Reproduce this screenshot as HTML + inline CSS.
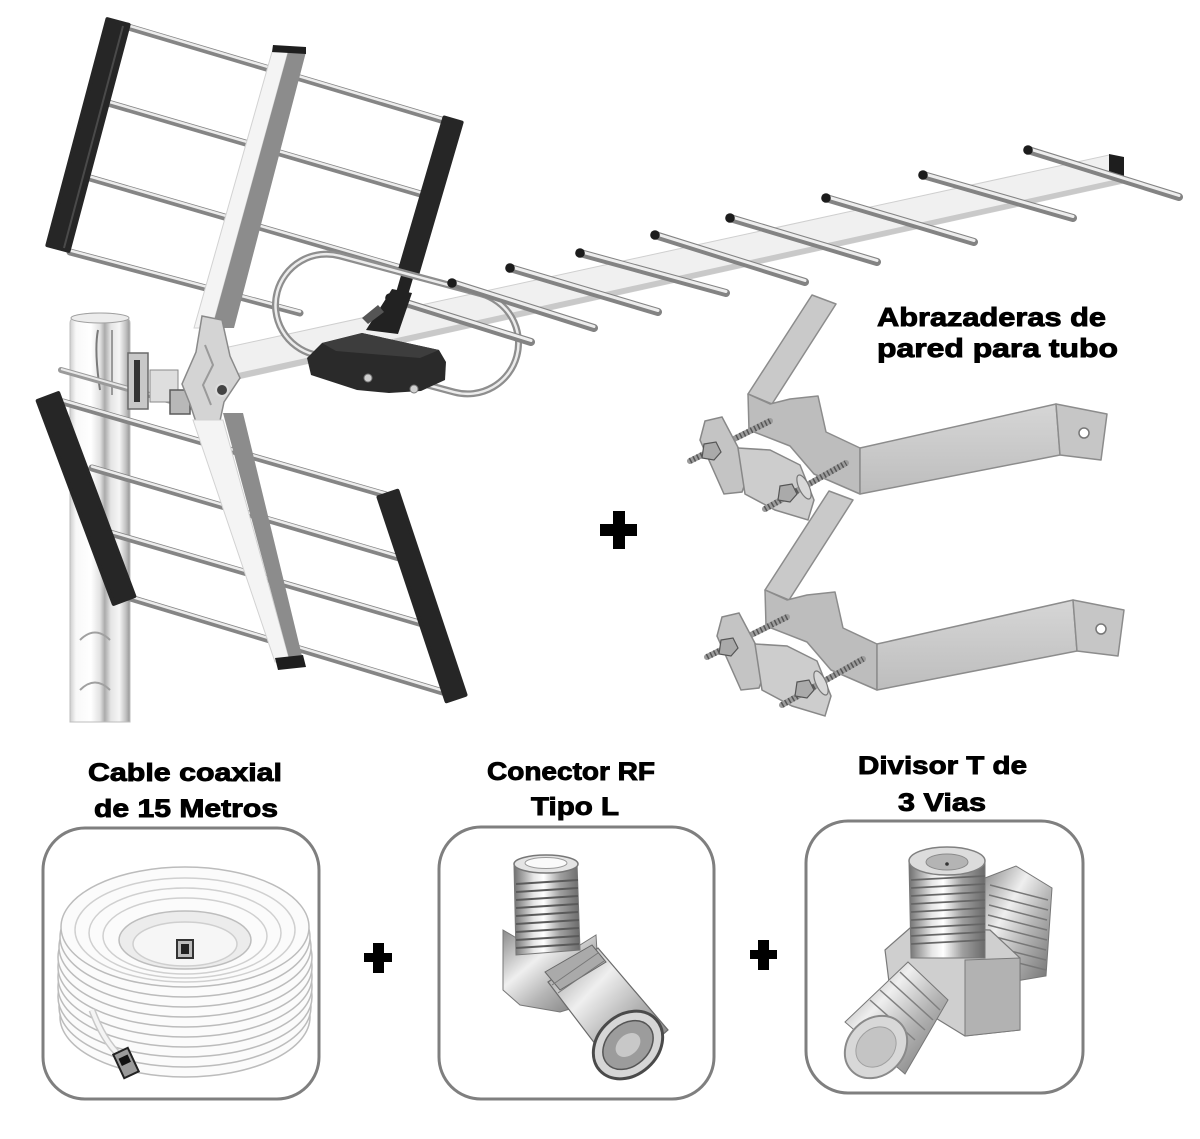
<!DOCTYPE html>
<html><head><meta charset="utf-8"><style>
html,body{margin:0;padding:0;background:#fff;}
svg{display:block;}
.t{font-family:"Liberation Sans",Arial,sans-serif;font-weight:bold;fill:#000;stroke:#000;stroke-width:0.9;}
</style></head><body>
<svg width="1200" height="1139" viewBox="0 0 1200 1139" xmlns="http://www.w3.org/2000/svg">
<defs>
<linearGradient id="mast" x1="0" x2="1" y1="0" y2="0">
<stop offset="0" stop-color="#cfcfcf"/><stop offset="0.1" stop-color="#f8f8f8"/><stop offset="0.35" stop-color="#ffffff"/><stop offset="0.5" stop-color="#e2e2e2"/><stop offset="0.58" stop-color="#ababab"/><stop offset="0.68" stop-color="#e4e4e4"/><stop offset="0.82" stop-color="#f6f6f6"/><stop offset="0.93" stop-color="#c2c2c2"/><stop offset="1" stop-color="#949494"/>
</linearGradient>
<linearGradient id="chr" x1="0" x2="1" y1="0" y2="0">
<stop offset="0" stop-color="#707070"/><stop offset="0.3" stop-color="#e6e6e6"/><stop offset="0.45" stop-color="#ffffff"/><stop offset="0.7" stop-color="#a0a0a0"/><stop offset="1" stop-color="#6a6a6a"/>
</linearGradient>
<linearGradient id="chr2" x1="0" x2="1" y1="0" y2="1">
<stop offset="0" stop-color="#8a8a8a"/><stop offset="0.35" stop-color="#efefef"/><stop offset="0.6" stop-color="#b5b5b5"/><stop offset="1" stop-color="#6f6f6f"/>
</linearGradient>
<linearGradient id="brk" x1="0" x2="0" y1="0" y2="1">
<stop offset="0" stop-color="#d6d6d6"/><stop offset="1" stop-color="#bdbdbd"/>
</linearGradient>
</defs>

<!-- MAST -->
<path d="M70,323 Q70,313 100,313 Q130,313 130,323 L130,722 L70,722 Z" fill="url(#mast)" stroke="#bdbdbd" stroke-width="1"/>
<ellipse cx="100" cy="318" rx="29" ry="5" fill="#ececec" stroke="#a0a0a0" stroke-width="1"/>
<path d="M98,330 Q94,350 100,390" stroke="#7a7a7a" stroke-width="2" fill="none"/>
<path d="M112,330 L112,395" stroke="#9a9a9a" stroke-width="2" fill="none"/>
<path d="M80,640 Q95,625 110,640 M80,690 Q95,675 110,690" stroke="#a0a0a0" stroke-width="2" fill="none"/>

<!-- UPPER REFLECTOR RODS -->
<g stroke-linecap="round">
<g stroke="#858585" stroke-width="7">
<line x1="125" y1="26" x2="448" y2="122"/>
<line x1="108" y1="103" x2="431" y2="197"/>
<line x1="90" y1="178" x2="411" y2="271"/>
<line x1="70" y1="252" x2="300" y2="313"/>
</g>
<g stroke="#ececec" stroke-width="2.5" transform="translate(0,-1.5)">
<line x1="125" y1="26" x2="448" y2="122"/>
<line x1="108" y1="103" x2="431" y2="197"/>
<line x1="90" y1="178" x2="411" y2="271"/>
<line x1="70" y1="252" x2="300" y2="313"/>
</g>
</g>
<!-- upper black bars -->
<polygon points="107.4,19.2 128.6,24.8 68.6,250.8 47.4,245.2" fill="#262626" stroke="#262626" stroke-width="4" stroke-linejoin="round"/>
<line x1="123" y1="26" x2="64" y2="248" stroke="#4a4a4a" stroke-width="2"/>
<polygon points="444.4,117.5 461.6,122.5 416.6,276.5 399.4,271.5" fill="#262626" stroke="#262626" stroke-width="4" stroke-linejoin="round"/>
<polygon points="402,272 414,275 400,322 388,320" fill="#222"/>

<!-- BOOM -->
<polygon points="215,350 1109,155 1128,182 220,383" fill="#f0f0f0" stroke="#cfcfcf" stroke-width="1"/>
<polygon points="220,377 1127,177 1128,182 220,383" fill="#c9c9c9"/>
<polygon points="1109,154 1124,157 1124,181 1109,178" fill="#1e1e1e"/>

<!-- LOOP -->
<g transform="translate(397,324) rotate(15)">
<rect x="-124" y="-51" width="248" height="102" rx="51" fill="none" stroke="#8e8e8e" stroke-width="7"/>
<rect x="-124" y="-51" width="248" height="102" rx="51" fill="none" stroke="#ececec" stroke-width="2.5"/>
</g>

<!-- DIRECTORS -->
<g stroke-linecap="round">
<g stroke="#838383" stroke-width="8">
<line x1="1028" y1="150" x2="1179" y2="197"/>
<line x1="923" y1="175" x2="1073" y2="218"/>
<line x1="826" y1="198" x2="974" y2="242"/>
<line x1="730" y1="218" x2="877" y2="262"/>
<line x1="655" y1="235" x2="805" y2="282"/>
<line x1="580" y1="253" x2="726" y2="293"/>
<line x1="510" y1="268" x2="658" y2="312"/>
<line x1="452" y1="283" x2="594" y2="328"/>
<line x1="390" y1="298" x2="531" y2="342"/>
</g>
<g stroke="#ededed" stroke-width="3" transform="translate(0,-1.5)">
<line x1="1028" y1="150" x2="1179" y2="197"/>
<line x1="923" y1="175" x2="1073" y2="218"/>
<line x1="826" y1="198" x2="974" y2="242"/>
<line x1="730" y1="218" x2="877" y2="262"/>
<line x1="655" y1="235" x2="805" y2="282"/>
<line x1="580" y1="253" x2="726" y2="293"/>
<line x1="510" y1="268" x2="658" y2="312"/>
<line x1="452" y1="283" x2="594" y2="328"/>
<line x1="390" y1="298" x2="531" y2="342"/>
</g>
</g>
<g fill="#1c1c1c">
<circle cx="1028" cy="150" r="4.8"/><circle cx="923" cy="175" r="4.8"/><circle cx="826" cy="198" r="4.8"/>
<circle cx="730" cy="218" r="4.8"/><circle cx="655" cy="235" r="4.8"/><circle cx="580" cy="253" r="4.8"/>
<circle cx="510" cy="268" r="4.8"/><circle cx="452" cy="283" r="4.8"/><circle cx="390" cy="298" r="4.8"/>
</g>

<!-- BALUN BOX -->
<polygon points="366,330 392,289 412,293 398,334" fill="#222"/>
<polygon points="362,318 378,305 384,312 368,324" fill="#555"/>
<polygon points="307,358 322,343 362,333 439,350 446,362 445,380 421,391 389,393 357,390 311,375" fill="#2a2a2a"/>
<polygon points="322,343 362,333 439,350 420,358 336,351" fill="#3d3d3d"/>
<circle cx="368" cy="378" r="4" fill="#cfcfcf" stroke="#777"/>
<circle cx="414" cy="389" r="4" fill="#cfcfcf" stroke="#777"/>

<!-- UPPER STRUT -->
<polygon points="272,52 288,52 212,328 194,328" fill="#f4f4f4" stroke="#d2d2d2" stroke-width="1"/>
<polygon points="288,52 306,52 234,328 212,328" fill="#8c8c8c"/>
<polygon points="273,45 306,47 306,54 272,52" fill="#1e1e1e"/>

<!-- clamp rod & brackets on mast -->
<line x1="61" y1="370" x2="192" y2="407" stroke="#9a9a9a" stroke-width="6" stroke-linecap="round"/>
<line x1="61" y1="369" x2="192" y2="406" stroke="#e8e8e8" stroke-width="2"/>
<rect x="128" y="353" width="20" height="56" fill="#c8c8c8" stroke="#6a6a6a" stroke-width="1.5"/>
<rect x="134" y="360" width="6" height="42" fill="#333"/>
<rect x="150" y="370" width="28" height="32" fill="#dedede" stroke="#8a8a8a"/>
<rect x="170" y="390" width="20" height="24" fill="#b8b8b8" stroke="#5a5a5a" stroke-width="1.5"/>

<!-- MOUNT PLATE -->
<polygon points="202,316 222,320 230,356 240,378 224,402 218,430 200,434 190,404 182,384 196,352" fill="#d4d4d4" stroke="#8a8a8a" stroke-width="1.5"/>
<path d="M205,345 L213,365 L203,385 L211,405" stroke="#9a9a9a" stroke-width="2" fill="none"/>
<circle cx="222" cy="390" r="6" fill="#444" stroke="#ddd" stroke-width="2"/>

<!-- LOWER REFLECTOR RODS -->
<g stroke-linecap="round">
<g stroke="#858585" stroke-width="7">
<line x1="63" y1="402" x2="386" y2="495"/>
<line x1="92" y1="468" x2="406" y2="560"/>
<line x1="110" y1="533" x2="426" y2="625"/>
<line x1="127" y1="597" x2="446" y2="693"/>
</g>
<g stroke="#ececec" stroke-width="2.5" transform="translate(0,-1.5)">
<line x1="63" y1="402" x2="386" y2="495"/>
<line x1="92" y1="468" x2="406" y2="560"/>
<line x1="110" y1="533" x2="426" y2="625"/>
<line x1="127" y1="597" x2="446" y2="693"/>
</g>
</g>
<polygon points="37.7,400.9 58.3,393.1 134.3,596.1 113.7,603.9" fill="#262626" stroke="#262626" stroke-width="4" stroke-linejoin="round"/>
<polygon points="378.5,497.2 397.5,490.8 465.5,694.8 446.5,701.2" fill="#262626" stroke="#262626" stroke-width="4" stroke-linejoin="round"/>

<!-- LOWER STRUT -->
<polygon points="193,420 223,420 290,662 275,662" fill="#f4f4f4" stroke="#d2d2d2" stroke-width="1"/>
<polygon points="223,413 243,413 303,660 290,662" fill="#8c8c8c"/>
<polygon points="275,658 303,655 306,667 278,670" fill="#1e1e1e"/>

<!-- WALL BRACKETS -->
<g id="bk">
<polygon points="812,295 836,304 772,404 748,394" fill="#c9c9c9" stroke="#8c8c8c" stroke-width="1.5" stroke-linejoin="round"/>
<polygon points="748,394 770,404 790,399 818,396 826,432 860,448 860,494 814,474 790,446 749,430" fill="#bdbdbd" stroke="#8c8c8c" stroke-width="1.5" stroke-linejoin="round"/>
<polygon points="860,448 1056,404 1060,455 860,494" fill="url(#brk)" stroke="#8c8c8c" stroke-width="1.5" stroke-linejoin="round"/>
<polygon points="1056,404 1107,414 1101,460 1060,455" fill="#c6c6c6" stroke="#8c8c8c" stroke-width="1.5" stroke-linejoin="round"/>
<circle cx="1084" cy="433" r="5" fill="#fff" stroke="#777" stroke-width="1.5"/>
<line x1="690" y1="461" x2="770" y2="421" stroke="#9c9c9c" stroke-width="6" stroke-linecap="round"/>
<line x1="690" y1="461" x2="770" y2="421" stroke="#555" stroke-width="6" stroke-dasharray="1.5 2.5"/>
<polygon points="705,421 722,417 750,470 742,492 724,494 700,440" fill="#c4c4c4" stroke="#888" stroke-width="1.5"/>
<polygon points="738,448 770,450 800,465 814,500 808,520 775,510 745,494" fill="#cdcdcd" stroke="#888" stroke-width="1.5"/>
<polygon points="704,444 716,442 721,452 714,460 702,458" fill="#aaa" stroke="#555" stroke-width="1.2"/>
<line x1="765" y1="509" x2="846" y2="463" stroke="#9c9c9c" stroke-width="6" stroke-linecap="round"/>
<line x1="765" y1="509" x2="846" y2="463" stroke="#555" stroke-width="6" stroke-dasharray="1.5 2.5"/>
<polygon points="780,486 792,484 797,494 790,502 778,500" fill="#aaa" stroke="#555" stroke-width="1.2"/>
<ellipse cx="804" cy="487" rx="5" ry="13" fill="#d8d8d8" stroke="#777" stroke-width="1.2" transform="rotate(-25 804 487)"/>
</g>
<use href="#bk" transform="translate(17,196)"/>

<!-- TOP-RIGHT TEXT -->
<text class="t" x="877" y="326" font-size="26" textLength="229" lengthAdjust="spacingAndGlyphs">Abrazaderas de</text>
<text class="t" x="877" y="357" font-size="26" textLength="241" lengthAdjust="spacingAndGlyphs">pared para tubo</text>

<!-- PLUS SIGNS -->
<rect x="600" y="524" width="37" height="12" fill="#000"/>
<rect x="613" y="511" width="12" height="38" fill="#000"/>
<rect x="364" y="953" width="28" height="9" fill="#000"/>
<rect x="373" y="943" width="11" height="30" fill="#000"/>
<rect x="750" y="950" width="27" height="9" fill="#000"/>
<rect x="758" y="940" width="11" height="30" fill="#000"/>

<!-- BOTTOM LABELS -->
<text class="t" x="88" y="781" font-size="25" textLength="194" lengthAdjust="spacingAndGlyphs">Cable coaxial</text>
<text class="t" x="94" y="817" font-size="25" textLength="184" lengthAdjust="spacingAndGlyphs">de 15 Metros</text>
<text class="t" x="487" y="780" font-size="25" textLength="168" lengthAdjust="spacingAndGlyphs">Conector RF</text>
<text class="t" x="531" y="815" font-size="25" textLength="88" lengthAdjust="spacingAndGlyphs">Tipo L</text>
<text class="t" x="858" y="774" font-size="25" textLength="169" lengthAdjust="spacingAndGlyphs">Divisor T de</text>
<text class="t" x="898" y="811" font-size="25" textLength="88" lengthAdjust="spacingAndGlyphs">3 Vias</text>

<!-- BOXES -->
<rect x="43" y="828" width="276" height="271" rx="42" fill="none" stroke="#7f7f7f" stroke-width="3"/>
<rect x="439" y="827" width="275" height="272" rx="42" fill="none" stroke="#7f7f7f" stroke-width="3"/>
<rect x="806" y="821" width="277" height="272" rx="42" fill="none" stroke="#7f7f7f" stroke-width="3"/>

<!-- COIL -->
<g fill="#fbfbfb" stroke="#bcbcbc" stroke-width="1.5">
<ellipse cx="185" cy="1017" rx="125" ry="60"/>
<ellipse cx="185" cy="1007" rx="126" ry="60"/>
<ellipse cx="185" cy="997" rx="127" ry="60"/>
<ellipse cx="185" cy="987" rx="127" ry="60"/>
<ellipse cx="185" cy="977" rx="127" ry="60"/>
<ellipse cx="185" cy="967" rx="127" ry="60"/>
<ellipse cx="185" cy="957" rx="127" ry="60"/>
<ellipse cx="185" cy="947" rx="126" ry="60"/>
<ellipse cx="185" cy="937" rx="125" ry="60"/>
<ellipse cx="185" cy="927" rx="124" ry="60"/>
</g>
<g fill="none" stroke="#d0d0d0" stroke-width="1.5">
<ellipse cx="185" cy="930" rx="110" ry="52"/>
<ellipse cx="185" cy="933" rx="96" ry="45"/>
<ellipse cx="185" cy="936" rx="82" ry="38"/>
</g>
<ellipse cx="185" cy="940" rx="66" ry="29" fill="#ececec" stroke="#bdbdbd" stroke-width="1.5"/>
<ellipse cx="185" cy="944" rx="52" ry="22" fill="#f6f6f6" stroke="#cfcfcf" stroke-width="1.5"/>
<rect x="177" y="940" width="16" height="18" fill="#bdbdbd" stroke="#333" stroke-width="2"/>
<rect x="181" y="944" width="8" height="10" fill="#222"/>
<path d="M92,1010 Q105,1045 125,1060" stroke="#c8c8c8" stroke-width="7" fill="none"/>
<path d="M92,1010 Q105,1045 125,1060" stroke="#f4f4f4" stroke-width="4" fill="none"/>
<rect x="118" y="1050" width="16" height="26" fill="#9a9a9a" stroke="#222" stroke-width="2" transform="rotate(-25 126 1063)"/>
<rect x="121" y="1056" width="10" height="8" fill="#111" transform="rotate(-25 126 1063)"/>

<!-- L CONNECTOR -->
<polygon points="503,930 520,940 580,945 596,935 600,1000 560,1012 520,1005 503,990" fill="url(#chr2)" stroke="#777" stroke-width="1"/>
<polygon points="514,866 577,862 580,950 516,955" fill="url(#chr)" stroke="#777" stroke-width="1"/>
<g stroke="#5a5a5a" stroke-width="2">
<line x1="516" y1="884" x2="578" y2="880"/><line x1="516" y1="892" x2="578" y2="888"/><line x1="516" y1="900" x2="578" y2="896"/>
<line x1="516" y1="908" x2="578" y2="904"/><line x1="516" y1="916" x2="578" y2="912"/><line x1="516" y1="924" x2="579" y2="920"/>
<line x1="516" y1="932" x2="579" y2="928"/><line x1="516" y1="940" x2="579" y2="936"/><line x1="516" y1="948" x2="579" y2="944"/>
</g>
<ellipse cx="546" cy="864" rx="32" ry="9" fill="#e4e4e4" stroke="#777" stroke-width="1.5"/>
<ellipse cx="546" cy="863" rx="21" ry="5.5" fill="#fafafa" stroke="#9a9a9a" stroke-width="1"/>
<polygon points="548,982 598,948 668,1030 618,1074" fill="url(#chr2)" stroke="#6a6a6a" stroke-width="1.2"/>
<polygon points="545,972 592,945 606,962 560,990" fill="#aaa" stroke="#666" stroke-width="1"/>
<g stroke="#777" stroke-width="1"><line x1="552" y1="985" x2="598" y2="953"/><line x1="558" y1="993" x2="604" y2="961"/></g>
<ellipse cx="628" cy="1045" rx="38" ry="30" transform="rotate(-42 628 1045)" fill="#d6d6d6" stroke="#4a4a4a" stroke-width="3"/>
<ellipse cx="628" cy="1045" rx="28" ry="21" transform="rotate(-42 628 1045)" fill="#9c9c9c" stroke="#555" stroke-width="1.5"/>
<ellipse cx="628" cy="1045" rx="14" ry="10" transform="rotate(-42 628 1045)" fill="#c8c8c8"/>

<!-- T SPLITTER -->
<polygon points="985,878 1016,866 1052,888 1046,976 1010,982 985,970" fill="url(#chr2)" stroke="#777" stroke-width="1"/>
<g stroke="#777" stroke-width="1.5">
<line x1="990" y1="885" x2="1048" y2="900"/><line x1="989" y1="895" x2="1048" y2="910"/><line x1="989" y1="905" x2="1047" y2="920"/>
<line x1="988" y1="915" x2="1047" y2="930"/><line x1="988" y1="925" x2="1047" y2="940"/><line x1="988" y1="935" x2="1046" y2="950"/>
<line x1="987" y1="945" x2="1046" y2="960"/><line x1="987" y1="955" x2="1046" y2="970"/>
</g>
<polygon points="885,950 910,928 990,930 1020,958 1020,1030 965,1036 890,990" fill="#cfcfcf" stroke="#7a7a7a" stroke-width="1.2"/>
<polygon points="965,960 1020,958 1020,1030 965,1036" fill="#b2b2b2" stroke="#7a7a7a" stroke-width="1"/>
<polygon points="909,862 985,862 985,958 911,958" fill="url(#chr)" stroke="#777" stroke-width="1"/>
<g stroke="#666" stroke-width="1.8">
<line x1="911" y1="880" x2="985" y2="876"/><line x1="911" y1="888" x2="985" y2="884"/><line x1="911" y1="896" x2="985" y2="892"/>
<line x1="911" y1="904" x2="985" y2="900"/><line x1="911" y1="912" x2="985" y2="908"/><line x1="911" y1="920" x2="985" y2="916"/>
<line x1="911" y1="928" x2="985" y2="924"/><line x1="911" y1="936" x2="985" y2="932"/><line x1="911" y1="944" x2="985" y2="940"/>
</g>
<ellipse cx="947" cy="861" rx="38" ry="14" fill="#dcdcdc" stroke="#808080" stroke-width="1.5"/>
<ellipse cx="947" cy="862" rx="21" ry="8" fill="#b4b4b4" stroke="#8a8a8a" stroke-width="1"/>
<circle cx="947" cy="864" r="1.8" fill="#333"/>
<polygon points="845,1022 908,962 948,1000 905,1074" fill="url(#chr2)" stroke="#777" stroke-width="1"/>
<g stroke="#808080" stroke-width="1.5">
<line x1="870" y1="1000" x2="915" y2="1040"/><line x1="880" y1="990" x2="925" y2="1030"/><line x1="890" y1="981" x2="933" y2="1020"/><line x1="900" y1="972" x2="940" y2="1010"/>
</g>
<ellipse cx="876" cy="1047" rx="34" ry="28" transform="rotate(-45 876 1047)" fill="#d8d8d8" stroke="#8a8a8a" stroke-width="2"/>
<ellipse cx="876" cy="1047" rx="22" ry="18" transform="rotate(-45 876 1047)" fill="#c4c4c4" stroke="#a0a0a0" stroke-width="1"/>
</svg>
</body></html>
